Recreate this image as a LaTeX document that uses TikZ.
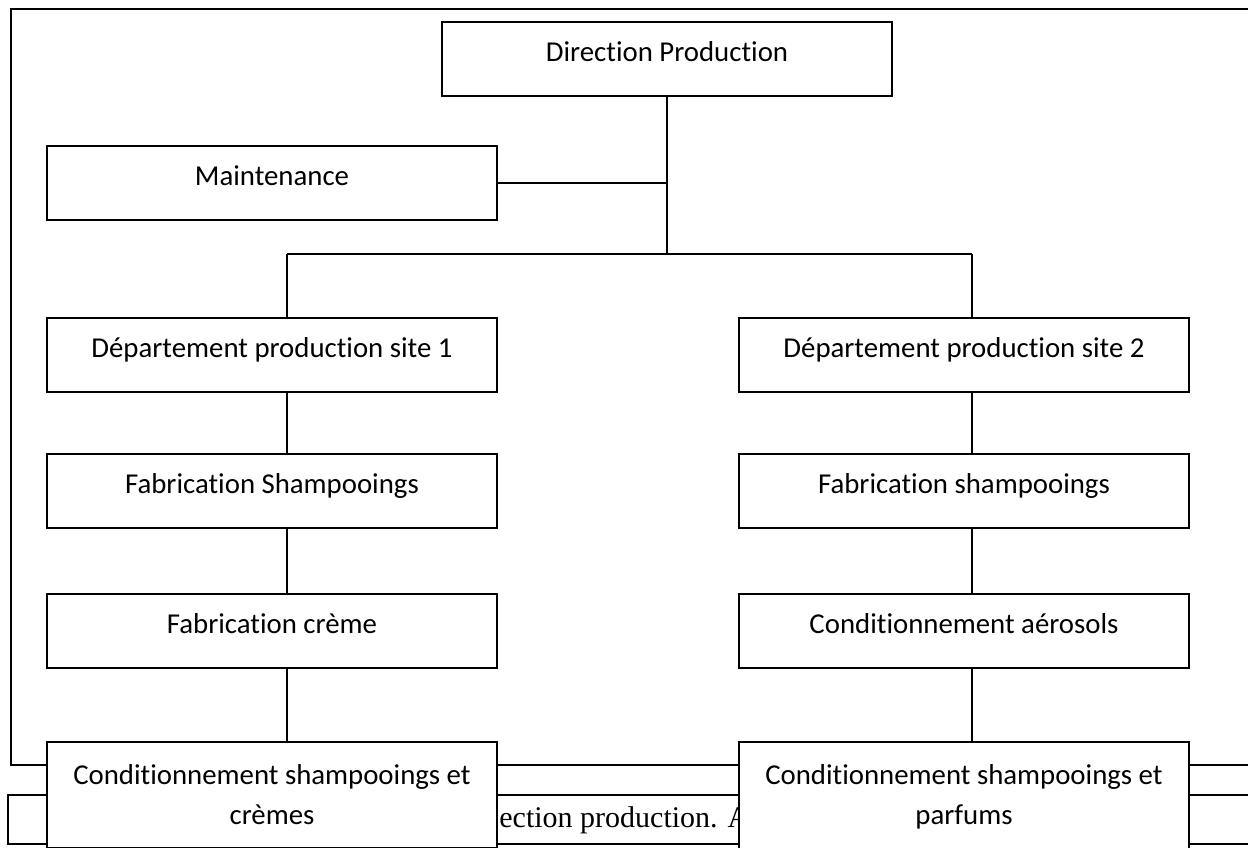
\documentclass[tikz,border=0pt]{standalone}
\usepackage{fontspec}
\setmainfont{Carlito}[Ligatures=NoCommon]
\newfontfamily\captionfont{Liberation Serif}
\usepackage{tikz}
\usetikzlibrary{positioning, calc}

\begin{document}
\begin{tikzpicture}[
    x=0.5pt, y=-0.5pt,
    unit/.style={rectangle, draw=black, line width=0.8pt, fill=white, minimum width=225pt, minimum height=37pt, text height=0.7em, text depth=0.46em, font=\fontsize{14.4}{20}\selectfont},
    lastunit/.style={rectangle, draw=black, line width=0.8pt, fill=white, minimum width=225pt, text width=222pt, align=flush center, inner xsep=1pt, inner ysep=11.5pt, anchor=north, font=\fontsize{14.4}{20}\selectfont},
    link/.style={line width=0.7pt, color=black},
    frameline/.style={line width=1pt, color=black}
]
\useasboundingbox (0,0) rectangle (1248,847);
\clip (0,0) rectangle (1248,847);

% page frame and caption behind the chart
\draw[frameline] (1248,9) -- (11,9) -- (11,765) -- (1248,765);
\draw[frameline] (1248,795) -- (8,795) -- (8,844) -- (1248,844);
\node[anchor=base west, inner sep=0pt, font=\captionfont\fontsize{15}{18}\selectfont] (caption) at (499,827) {ection production. A};

\node[unit] (direction) at (667,59) {Direction Production};
\node[unit] (maint) at (272,183) {Maintenance};

\node[unit] (site1) at (272,355) {Département production site 1};
\node[unit] (fabsh1) at (272,491) {Fabrication Shampooings};
\node[unit] (fabcr1) at (272,631) {Fabrication crème};
\node[lastunit] (cond1) at (272,741) {Conditionnement shampooings et\\crèmes};

\node[unit] (site2) at (964,355) {Département production site 2};
\node[unit] (fabsh2) at (964,491) {Fabrication shampooings};
\node[unit] (aero2) at (964,631) {Conditionnement aérosols};
\node[lastunit] (cond2) at (964,741) {Conditionnement shampooings et\\parfums};

\coordinate (bus) at (667,254);
\coordinate (busL) at (287,254);
\coordinate (busR) at (972,254);

\draw[link] (direction.south) -- (bus);
\draw[link] (maint.east) -- (maint.east -| bus);
\draw[link] (busL) -- (busR);

% left branch
\draw[link] (busL) -- (busL |- site1.north);
\draw[link] (site1.south -| busL) -- (fabsh1.north -| busL);
\draw[link] (fabsh1.south -| busL) -- (fabcr1.north -| busL);
\draw[link] (fabcr1.south -| busL) -- (cond1.north -| busL);

% right branch
\draw[link] (busR) -- (busR |- site2.north);
\draw[link] (site2.south -| busR) -- (fabsh2.north -| busR);
\draw[link] (fabsh2.south -| busR) -- (aero2.north -| busR);
\draw[link] (aero2.south -| busR) -- (cond2.north -| busR);

\end{tikzpicture}
\end{document}
